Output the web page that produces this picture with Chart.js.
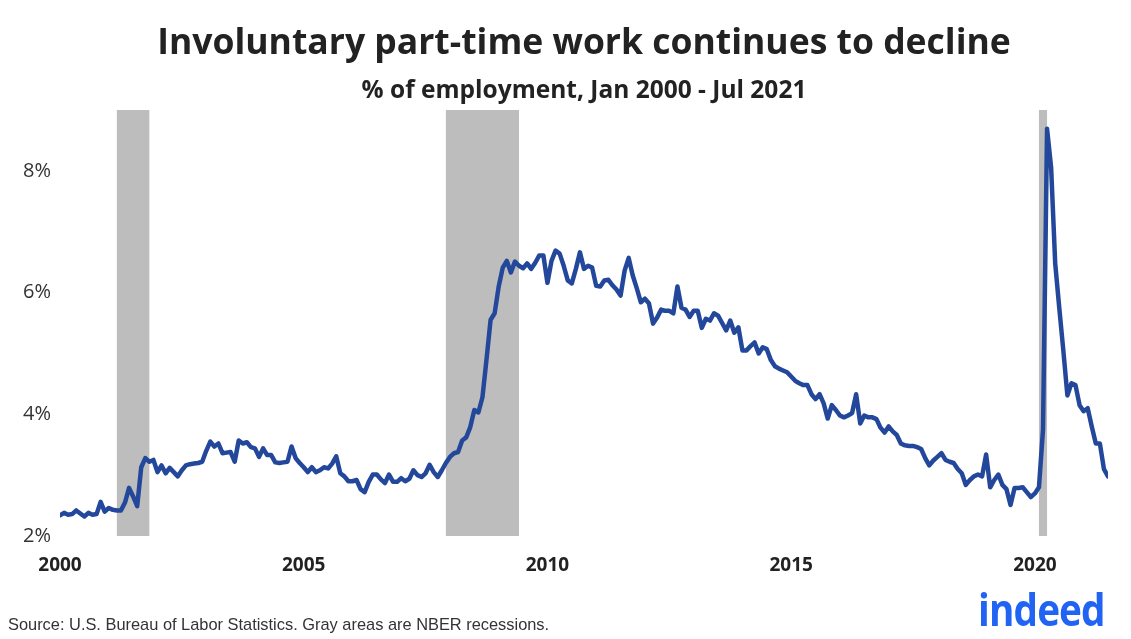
<!DOCTYPE html>
<html>
<head>
<meta charset="utf-8">
<script src="https://cdn.jsdelivr.net/npm/chart.js@4.4.0/dist/chart.umd.min.js"></script>
<style>
  html, body { margin: 0; padding: 0; background: #fff; }
  #wrap { position: relative; width: 1131px; height: 639px; overflow: hidden; }
  #chart { position: absolute; left: 0; top: 0; }
  .txt { position: absolute; white-space: nowrap; }
  #title { left: 60px; width: 1048px; top: 22px; text-align: center; font: 700 35.5px/36px "Open Sans"; color: #222; }
  #subtitle { left: 60px; width: 1048px; top: 76px; text-align: center; font: 700 24.5px/25px "Open Sans"; color: #222; }
  #source { left: 8px; top: 614px; font: 400 16.4px/20px "Liberation Sans"; color: #333; }
  #logo { left: 978px; top: 584px; font: 700 44px/50px "Open Sans"; color: #2164f3; letter-spacing: -1px;
          transform: scaleX(0.88); transform-origin: left top; }
</style>
</head>
<body>
<div id="wrap">
  <canvas id="chart" width="1131" height="639"></canvas>
  <div class="txt" id="title">Involuntary part-time work continues to decline</div>
  <div class="txt" id="subtitle">% of employment, Jan 2000 - Jul 2021</div>
  <div class="txt" id="source">Source: U.S. Bureau of Labor Statistics. Gray areas are NBER recessions.</div>
  <div class="txt" id="logo">indeed</div>
</div>
<script>
// involuntary part-time, % of employment, monthly from Jan 2000
const rate2000s = [
  2.34, 2.38, 2.35, 2.36, 2.42, 2.37, 2.32, 2.38, 2.35, 2.36, 2.56, 2.40,
  2.46, 2.43, 2.42, 2.42, 2.55, 2.79, 2.65, 2.49, 3.13, 3.28, 3.22, 3.25,
  3.05, 3.16, 3.03, 3.12, 3.05, 2.98, 3.08, 3.16, 3.18, 3.19, 3.20, 3.22,
  3.40, 3.55, 3.47, 3.52, 3.36, 3.37, 3.38, 3.22, 3.57, 3.52, 3.54, 3.46,
  3.44, 3.30, 3.44, 3.33, 3.33, 3.21, 3.20, 3.21, 3.22, 3.47, 3.28, 3.20,
  3.13, 3.05, 3.13, 3.05, 3.08, 3.13, 3.11, 3.19, 3.31, 3.03, 2.98, 2.90,
  2.90, 2.92, 2.77, 2.72, 2.89, 3.01, 3.01, 2.93, 2.87, 3.01, 2.89, 2.89,
  2.95, 2.90, 2.94, 3.08, 3.00, 2.97, 3.03, 3.17, 3.05, 2.97, 3.08, 3.20,
  3.30, 3.36, 3.38, 3.57, 3.62, 3.79, 4.07, 4.03, 4.28, 4.90, 5.55, 5.66,
  6.10, 6.41, 6.52, 6.33, 6.51, 6.44, 6.40, 6.48, 6.39, 6.49, 6.61, 6.61
];
const rate2010s = [
  6.16, 6.52, 6.69, 6.64, 6.44, 6.20, 6.15, 6.39, 6.66, 6.39, 6.44, 6.41,
  6.11, 6.10, 6.20, 6.21, 6.12, 6.05, 5.95, 6.36, 6.57, 6.28, 6.07, 5.84,
  5.90, 5.82, 5.49, 5.59, 5.72, 5.70, 5.70, 5.66, 6.10, 5.75, 5.72, 5.60,
  5.70, 5.70, 5.42, 5.57, 5.54, 5.66, 5.62, 5.50, 5.38, 5.54, 5.34, 5.43,
  5.05, 5.05, 5.12, 5.18, 5.00, 5.10, 5.07, 4.89, 4.79, 4.75, 4.72, 4.69,
  4.62, 4.55, 4.51, 4.48, 4.48, 4.33, 4.25, 4.33, 4.18, 3.93, 4.15, 4.07,
  3.98, 3.95, 3.98, 4.02, 4.33, 3.85, 3.98, 3.95, 3.95, 3.92, 3.78, 3.70,
  3.80, 3.72, 3.66, 3.52, 3.49, 3.48, 3.48, 3.46, 3.43, 3.28, 3.16, 3.24,
  3.30, 3.36, 3.25, 3.22, 3.20, 3.10, 3.03, 2.84, 2.92, 2.98, 3.01, 2.98,
  3.34, 2.80, 2.92, 3.01, 2.84, 2.77, 2.51, 2.79, 2.79, 2.80, 2.72, 2.64
];
const rate2020s = [
  2.70, 2.80, 3.75, 8.69, 8.05, 6.48, 5.75, 5.05, 4.31, 4.51, 4.48, 4.15,
  4.05, 4.10, 3.80, 3.52, 3.52, 3.10, 2.98
];

const yearTicks = [0, 60, 120, 180, 240];          // months since Jan 2000
const yearLabels = ["2000", "2005", "2010", "2015", "2020"];
const percentTicks = [2, 4, 6, 8];

// NBER recessions, months since Jan 2000
const recessionStart = [14, 95, 241];
const recessionEnd = [22, 113, 243];

const rates = rate2000s.concat(rate2010s, rate2020s);
const points = rates.map((v, i) => ({ x: i, y: v }));

const recessionBands = {
  id: "recessionBands",
  beforeDatasetsDraw(chart) {
    const ctx = chart.ctx;
    const area = chart.chartArea;
    const xs = chart.scales.x;
    ctx.save();
    ctx.fillStyle = "#bdbdbd";
    for (let i = 0; i < recessionStart.length; i++) {
      const x1 = xs.getPixelForValue(recessionStart[i]);
      const x2 = xs.getPixelForValue(recessionEnd[i]);
      ctx.fillRect(x1, area.top, x2 - x1, area.bottom - area.top);
    }
    ctx.restore();
  }
};

var ctx = document.getElementById("chart");
var chart = new Chart(ctx, {
  type: "line",
  data: {
    datasets: [{
      label: "Involuntary part-time",
      data: points,
      borderColor: "#23489b",
      borderWidth: 4.5,
      pointRadius: 0,
      borderJoinStyle: "round",
      borderCapStyle: "round",
      fill: false,
      tension: 0
    }]
  },
  options: {
    responsive: false,
    animation: false,
    devicePixelRatio: 1,
    layout: { padding: { top: 110, right: 23, left: 0, bottom: 0 } },
    plugins: {
      legend: { display: false },
      tooltip: { enabled: false }
    },
    scales: {
      x: {
        type: "linear",
        min: 0,
        max: rates.length - 1,
        grid: { display: false, drawTicks: false },
        border: { display: false },
        afterBuildTicks: (s) => { s.ticks = yearTicks.map(v => ({ value: v })); },
        afterFit: (s) => { s.height = 103; },
        ticks: {
          autoSkip: false,
          maxRotation: 0,
          padding: 18,
          color: "#222",
          font: { family: "Open Sans", size: 19, weight: "bold" },
          callback: (v) => yearLabels[yearTicks.indexOf(v)]
        }
      },
      y: {
        min: 2,
        max: 9,
        grid: { display: false, drawTicks: false },
        border: { display: false },
        afterBuildTicks: (s) => { s.ticks = percentTicks.map(v => ({ value: v })); },
        afterFit: (s) => { s.width = 60; },
        ticks: {
          padding: 9,
          color: "#333",
          font: { family: "Open Sans", size: 20 },
          callback: (v) => v + "%"
        }
      }
    }
  },
  plugins: [recessionBands]
});
</script>
</body>
</html>
